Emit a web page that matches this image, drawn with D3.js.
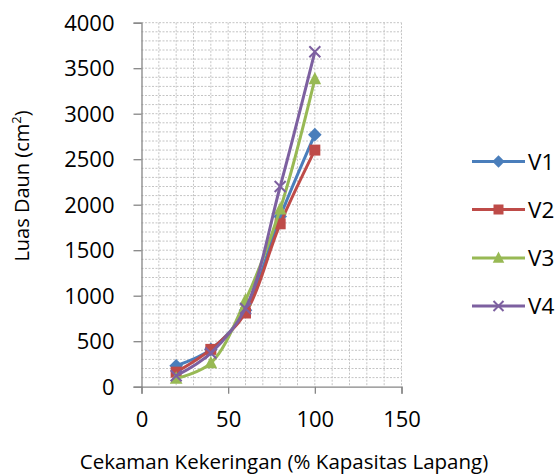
<!DOCTYPE html>
<html>
<head>
<meta charset="utf-8">
<script src="https://cdn.jsdelivr.net/npm/d3@7"></script>
<style>
  html, body { margin: 0; padding: 0; background: #fff; }
  svg text { font-family: "Open Sans", "Liberation Sans", sans-serif; fill: #000; }
</style>
</head>
<body>
<svg id="chart" width="560" height="475"></svg>
<script>
// Drought stress level (% field capacity)
const stressLevels = [20, 40, 60, 80, 100];

// Leaf area (cm²) for each variety
const seriesNames = ["V1", "V2", "V3", "V4"];
const v1 = [230, 410, 840, 1870, 2770];
const v2 = [160, 410, 810, 1790, 2600];
const v3 = [90, 260, 950, 1950, 3380];
const v4 = [120, 370, 860, 2200, 3680];

const xTicks = [0, 50, 100, 150];
const yTicks = [0, 500, 1000, 1500, 2000, 2500, 3000, 3500, 4000];

const colors = ["#4A7EBB", "#BE4B48", "#98B954", "#7D60A0"];
const markers = ["diamond", "square", "triangle", "cross"];

const series = [v1, v2, v3, v4].map((vals, i) => ({
  name: seriesNames[i],
  color: colors[i],
  marker: markers[i],
  points: stressLevels.map((x, j) => ({ x, y: vals[j] }))
}));

const svg = d3.select("#chart");
const plotLeft = 141.5, plotTop = 22.7, plotW = 260, plotH = 364;
const g = svg.append("g").attr("transform", `translate(${plotLeft},${plotTop})`);

const x = d3.scaleLinear().domain([0, 150]).range([0, plotW]);
const y = d3.scaleLinear().domain([0, 4000]).range([plotH, 0]);

// Dotted grid: every 10 on x, every 100 on y
const grid = g.append("g").attr("stroke", "#c4c4c4").attr("stroke-width", 1)
  .attr("stroke-dasharray", "2,1.5");
d3.range(10, 151, 10).forEach(v => {
  grid.append("line").attr("x1", x(v)).attr("x2", x(v)).attr("y1", 0).attr("y2", plotH);
});
d3.range(100, 4001, 100).forEach(v => {
  grid.append("line").attr("x1", 0).attr("x2", plotW).attr("y1", y(v)).attr("y2", y(v));
});

// Axes
const yAxis = d3.axisLeft(y).tickValues(yTicks).tickSize(8).tickPadding(19).tickFormat(d3.format("d"));
const xAxis = d3.axisBottom(x).tickValues(xTicks).tickSize(7).tickPadding(18).tickFormat(d3.format("d"));

const gy = g.append("g").call(yAxis);
const gx = g.append("g").attr("transform", `translate(0,${plotH})`).call(xAxis);
[gy, gx].forEach(a => {
  a.select(".domain").attr("stroke", "#868686").attr("stroke-width", 1.3);
  a.selectAll(".tick line").attr("stroke", "#868686").attr("stroke-width", 1.3);
  a.selectAll(".tick text").style("font-size", "22px").attr("fill", "#000");
});
gy.selectAll(".tick text").attr("dy", "0.35em");

// Axis titles
svg.append("text")
  .attr("x", 284).attr("y", 469)
  .attr("text-anchor", "middle")
  .style("font-size", "20.5px")
  .text("Cekaman Kekeringan (% Kapasitas Lapang)");

const yt = svg.append("text")
  .attr("transform", "translate(29,186) rotate(-90)")
  .attr("text-anchor", "middle")
  .style("font-size", "20px");
yt.append("tspan").text("Luas Daun (cm");
yt.append("tspan").attr("dy", "-8").style("font-size", "13px").text("2");
yt.append("tspan").attr("dy", "8").text(")");

// Marker drawing
function drawMarker(sel, type, color, size) {
  if (type === "diamond") {
    const r = size * 0.62;
    sel.append("path").attr("d", `M0,${-r}L${r},0L0,${r}L${-r},0Z`).attr("fill", color);
  } else if (type === "square") {
    sel.append("rect").attr("x", -size / 2).attr("y", -size / 2)
      .attr("width", size).attr("height", size).attr("fill", color);
  } else if (type === "triangle") {
    const h = size * 1.05, w = size * 1.15;
    sel.append("path").attr("d", `M0,${-h * 0.62}L${w / 2},${h * 0.45}L${-w / 2},${h * 0.45}Z`)
      .attr("fill", color);
  } else {
    const r = size / 2;
    sel.append("path").attr("d", `M${-r},${-r}L${r},${r}M${-r},${r}L${r},${-r}`)
      .attr("stroke", color).attr("stroke-width", 2).attr("fill", "none");
  }
}

const line = d3.line().x(d => x(d.x)).y(d => y(d.y)).curve(d3.curveCatmullRom.alpha(0.5));

series.forEach(s => {
  g.append("path").datum(s.points)
    .attr("d", line).attr("fill", "none")
    .attr("stroke", s.color).attr("stroke-width", 3).attr("stroke-linejoin", "round");
  s.points.forEach(p => {
    const m = g.append("g").attr("transform", `translate(${x(p.x)},${y(p.y)})`);
    drawMarker(m, s.marker, s.color, 11);
  });
});

// Legend
const legendY = [161.5, 209.5, 258, 306];
series.forEach((s, i) => {
  const lg = svg.append("g").attr("transform", `translate(472,${legendY[i]})`);
  lg.append("line").attr("x1", 0).attr("x2", 53).attr("y1", 0).attr("y2", 0)
    .attr("stroke", s.color).attr("stroke-width", 3);
  const m = lg.append("g").attr("transform", "translate(26.5,0)");
  drawMarker(m, s.marker, s.color, 10);
  lg.append("text").attr("x", 56).attr("y", 0).attr("dy", "0.36em")
    .style("font-size", "22.5px").text(s.name);
});
</script>
</body>
</html>
